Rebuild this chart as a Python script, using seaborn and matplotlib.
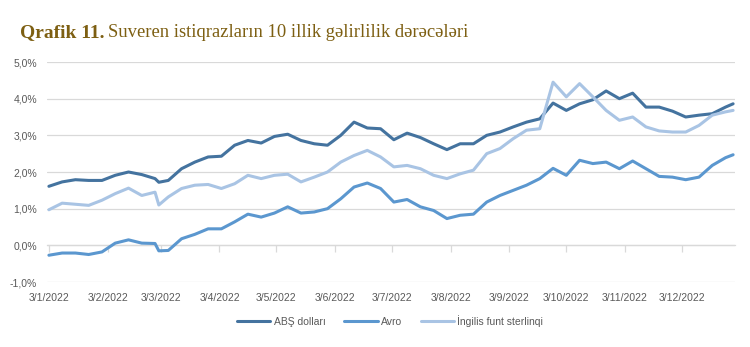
import matplotlib
matplotlib.use("Agg")
import matplotlib.pyplot as plt
import matplotlib.dates as mdates
from matplotlib.ticker import FixedLocator, FuncFormatter
from matplotlib.lines import Line2D
import seaborn as sns
import pandas as pd

dates = ["2022-01-03", "2022-01-10", "2022-01-17", "2022-01-24", "2022-01-31",
         "2022-02-07", "2022-02-14", "2022-02-21", "2022-02-28", "2022-03-02",
         "2022-03-07", "2022-03-14", "2022-03-21", "2022-03-28", "2022-04-04",
         "2022-04-11", "2022-04-18", "2022-04-25", "2022-05-02", "2022-05-09",
         "2022-05-16", "2022-05-23", "2022-05-30", "2022-06-06", "2022-06-13",
         "2022-06-20", "2022-06-27", "2022-07-04", "2022-07-11", "2022-07-18",
         "2022-07-25", "2022-08-01", "2022-08-08", "2022-08-15", "2022-08-22",
         "2022-08-29", "2022-09-05", "2022-09-12", "2022-09-19", "2022-09-26",
         "2022-10-03", "2022-10-10", "2022-10-17", "2022-10-24", "2022-10-31",
         "2022-11-07", "2022-11-14", "2022-11-21", "2022-11-28", "2022-12-05",
         "2022-12-12", "2022-12-19", "2022-12-26", "2022-12-30"]

usd = [1.61, 1.73, 1.79, 1.77, 1.77, 1.91, 2.00, 1.93, 1.82, 1.72,
       1.77, 2.09, 2.27, 2.41, 2.43, 2.73, 2.86, 2.79, 2.97, 3.03,
       2.86, 2.77, 2.73, 3.00, 3.36, 3.20, 3.18, 2.88, 3.06, 2.94,
       2.77, 2.61, 2.77, 2.77, 3.00, 3.09, 3.23, 3.36, 3.45, 3.88,
       3.68, 3.86, 3.97, 4.21, 4.00, 4.15, 3.77, 3.77, 3.66, 3.50,
       3.55, 3.59, 3.77, 3.86]

eur = [-0.27, -0.21, -0.21, -0.25, -0.18, 0.06, 0.15, 0.06, 0.05, -0.15,
       -0.14, 0.18, 0.30, 0.45, 0.45, 0.64, 0.85, 0.77, 0.88, 1.05,
       0.88, 0.91, 1.00, 1.27, 1.59, 1.70, 1.55, 1.18, 1.25, 1.05,
       0.95, 0.73, 0.82, 0.85, 1.18, 1.36, 1.50, 1.64, 1.82, 2.10,
       1.91, 2.32, 2.23, 2.27, 2.09, 2.30, 2.09, 1.88, 1.86, 1.79,
       1.86, 2.18, 2.39, 2.47]

gbp = [0.97, 1.15, 1.12, 1.09, 1.23, 1.41, 1.56, 1.36, 1.45, 1.10,
       1.32, 1.55, 1.64, 1.66, 1.55, 1.68, 1.91, 1.82, 1.91, 1.94,
       1.73, 1.86, 2.00, 2.27, 2.45, 2.59, 2.41, 2.14, 2.18, 2.09,
       1.91, 1.82, 1.95, 2.05, 2.50, 2.64, 2.91, 3.14, 3.18, 4.45,
       4.05, 4.41, 4.05, 3.68, 3.41, 3.50, 3.23, 3.12, 3.09, 3.09,
       3.27, 3.55, 3.64, 3.68]

series_names = ["ABŞ dolları", "Avro", "İngilis funt sterlinqi"]
colors = ["#44739f", "#5b97cf", "#a9c4e4"]
tick_dates = ["2022-01-03", "2022-02-03", "2022-03-03", "2022-04-03", "2022-05-03",
              "2022-06-03", "2022-07-03", "2022-08-03", "2022-09-03", "2022-10-03",
              "2022-11-03", "2022-12-03"]
tick_labels = ["3/1/2022", "3/2/2022", "3/3/2022", "3/4/2022", "3/5/2022", "3/6/2022",
               "3/7/2022", "3/8/2022", "3/9/2022", "3/10/2022", "3/11/2022", "3/12/2022"]
y_ticks = [-1, 0, 1, 2, 3, 4, 5]

df = pd.DataFrame({"date": pd.to_datetime(dates)})
long = pd.concat([
    pd.DataFrame({"date": df["date"], "value": vals, "series": name})
    for name, vals in zip(series_names, [usd, eur, gbp])
])

sns.set_theme(style="white")
plt.rcParams["font.family"] = ["Liberation Sans", "DejaVu Sans"]

fig = plt.figure(figsize=(7.5, 3.47), dpi=100)
ax = fig.add_axes([47 / 750, 1 - 282 / 347, (735 - 47) / 750, (282 - 62) / 347])

sns.lineplot(data=long, x="date", y="value", hue="series", hue_order=series_names,
             palette=colors, linewidth=2.2, ax=ax, legend=False, zorder=3)

ax.set_ylim(-1, 5)
ax.set_xlim(pd.Timestamp("2022-01-02"), pd.Timestamp("2022-12-31"))
ax.set_yticks(y_ticks)
ax.yaxis.set_major_formatter(FuncFormatter(lambda v, p: f"{v:.1f}%".replace(".", ",")))
ax.grid(axis="y", color="#d9d9d9", linewidth=0.9)
ax.grid(axis="x", visible=False)
for s in ["top", "right", "left"]:
    ax.spines[s].set_visible(False)
ax.spines["bottom"].set_position(("data", 0))
ax.spines["bottom"].set_color("#d9d9d9")
ax.spines["bottom"].set_linewidth(0.9)
tick_nums = mdates.date2num(pd.to_datetime(tick_dates))
ax.xaxis.set_major_locator(FixedLocator(tick_nums))
ax.set_xticklabels(tick_labels)
ax.tick_params(axis="x", direction="out", length=5, color="#d9d9d9", width=0.9,
               pad=29, labelsize=7.5, labelcolor="#595959", bottom=True)
ax.tick_params(axis="y", length=0, pad=7, labelsize=7.5, labelcolor="#595959")
ax.set_xlabel("")
ax.set_ylabel("")

handles = [Line2D([0], [0], color=c, linewidth=2.2) for c in colors]
fig.legend(handles, series_names, loc="center", bbox_to_anchor=(390 / 750, 1 - 321 / 347),
           ncol=3, frameon=False, fontsize=7.5, handlelength=3.2, columnspacing=1.8,
           handletextpad=0.3, labelcolor="#595959")

title_color = "#7d5f12"
t1 = fig.text(20 / 750, 1 - 37 / 347, "Qrafik 11.", fontsize=14, fontweight="bold",
              color=title_color, family="Liberation Serif", va="baseline")
fig.canvas.draw()
bb = t1.get_window_extent(renderer=fig.canvas.get_renderer())
fig.text((bb.x1 + 4) / 750, 1 - 37 / 347, "Suveren istiqrazların 10 illik gəlirlilik dərəcələri",
         fontsize=13.4, color=title_color, family="Liberation Serif", va="baseline")

fig.savefig("out.png", dpi=100)
